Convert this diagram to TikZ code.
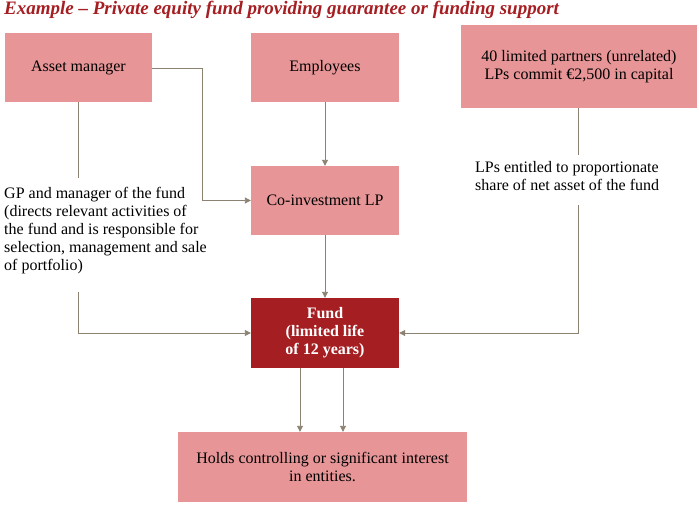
\documentclass[tikz,border=0pt]{standalone}
\usepackage{fontspec}
\setmainfont{Liberation Serif}
\usetikzlibrary{arrows.meta,calc}
\definecolor{boxpink}{HTML}{E79597}
\definecolor{fundred}{HTML}{A51E22}
\definecolor{linegray}{HTML}{8C8272}
\tikzset{
  pinkbox/.style={fill=boxpink,align=center,inner sep=2pt,font=\fontsize{16}{18}\selectfont},
  link/.style={draw=linegray,line width=0.9pt,-{Triangle[length=6pt,width=6pt]}},
  plain/.style={draw=linegray,line width=0.9pt},
  note/.style={align=left,anchor=north west,inner sep=0pt,font=\fontsize{16}{18}\selectfont}
}
\begin{document}
\begin{tikzpicture}[x=1pt,y=-1pt]
        \useasboundingbox (0,0) rectangle (699,520);
        \node[anchor=west,inner sep=0pt,text=fundred,font=\fontsize{19}{21}\selectfont\bfseries\itshape] (title) at (4,10) {Example -- Private equity fund providing guarantee or funding support};

        \node[pinkbox,minimum width=147pt,minimum height=69pt] (am) at (78.5,67.5) {Asset manager};
        \node[pinkbox,minimum width=148pt,minimum height=69pt] (emp) at (325,67.5) {Employees};
        \node[pinkbox,minimum width=236pt,minimum height=83pt] (lps) at (579,66.5) {40 limited partners (unrelated)\\LPs commit €2,500 in capital};
        \node[pinkbox,minimum width=148pt,minimum height=69pt] (coinv) at (325,200.5) {Co-investment LP};
        \node[pinkbox,fill=fundred,text=white,font=\fontsize{16}{18}\selectfont\bfseries,minimum width=148pt,minimum height=70pt] (fund) at (325,333) {Fund\\(limited life\\of 12 years)};
        \node[pinkbox,minimum width=289pt,minimum height=70pt] (holds) at (322.5,467) {Holds controlling or significant interest\\in entities.};

        \node[note] (gptext) at (4,187) {GP and manager of the fund\\(directs relevant activities of\\the fund and is responsible for\\selection, management and sale\\of portfolio)};
        \node[note] (lptext) at (475,161) {LPs entitled to proportionate\\share of net asset of the fund};

        \coordinate (bendA) at (202,68);
        \draw[link] (am.east |- bendA) -- (bendA) |- (coinv.west);
        \draw[plain] (78,102) -- (78,178);
        \draw[link] (78,292) |- (fund.west);
        \draw[link] (emp) -- (coinv);
        \draw[link] (coinv) -- (fund);
        \draw[plain] (578,108) -- (578,155);
        \draw[link] (578,205) |- (fund.east);
        \draw[link] ($(fund.south)+(-25,0)$) -- ($(holds.north)+(-22.5,0)$);
        \draw[link] ($(fund.south)+(18,0)$) -- ($(holds.north)+(20.5,0)$);
      \end{tikzpicture}
\end{document}
